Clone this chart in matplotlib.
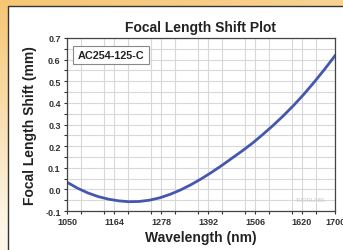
import numpy as np
import matplotlib
matplotlib.use("Agg")
import matplotlib.pyplot as plt
from matplotlib.patches import Rectangle
from matplotlib.ticker import MultipleLocator

plt.rcParams['font.family'] = ['Liberation Sans', 'DejaVu Sans']

# data
wavelength = [1050, 1075, 1100, 1125, 1150, 1175, 1200, 1225, 1250, 1275, 1300, 1325, 1350,
              1375, 1400, 1425, 1450, 1475, 1500, 1525, 1550, 1575, 1600, 1625, 1650, 1675, 1700]
shift_mm = [0.033, 0.006, -0.016, -0.033, -0.045, -0.053, -0.057, -0.056, -0.050, -0.039, -0.023,
            -0.003, 0.021, 0.048, 0.078, 0.110, 0.144, 0.178, 0.214, 0.254, 0.296, 0.341, 0.389,
            0.441, 0.497, 0.556, 0.618]
xticks = [1050, 1164, 1278, 1392, 1506, 1620, 1700]
yticks = [-0.1, 0.0, 0.1, 0.2, 0.3, 0.4, 0.5, 0.6, 0.7]

W, H = 343, 251
fig = plt.figure(figsize=(W / 100, H / 100), dpi=100)

# orange gradient background behind a white panel
bg = fig.add_axes([0, 0, 1, 1])
gx, gy = np.meshgrid(np.linspace(0, 1, 200), np.linspace(0, 1, 200))
t = np.clip(1 - gy * 1.1 - gx * 0.25, 0, 1)
c0 = np.array([253, 246, 232]) / 255
c1 = np.array([246, 198, 115]) / 255
img = c0[None, None, :] + (c1 - c0)[None, None, :] * t[..., None]
bg.imshow(img, extent=[0, 1, 0, 1], origin="upper", aspect="auto")
bg.add_patch(Rectangle((8 / W, -0.1), 1.2, 1 - 7 / H + 0.1, transform=bg.transAxes,
                       facecolor="white", edgecolor="#333333", lw=1.0))
bg.set_xlim(0, 1)
bg.set_ylim(0, 1)
bg.axis("off")

ax = fig.add_axes([67 / W, 1 - 212 / H, (335 - 67) / W, (212 - 39) / H])
ax.plot(wavelength, shift_mm, color="#4558ad", lw=2.0)
ax.set_xlim(1050, 1700)
ax.set_ylim(-0.1, 0.7)
ax.set_xticks(xticks)
ax.set_yticks(yticks)
ax.set_yticklabels(["%.1f" % v for v in yticks])
ax.xaxis.set_minor_locator(MultipleLocator(57))
ax.yaxis.set_minor_locator(MultipleLocator(0.05))
ax.grid(True, which="both", color="#d8d8d8", lw=0.8)
ax.set_axisbelow(True)
ax.tick_params(which="both", direction="out", length=2.5, width=0.8, colors="#333333",
               labelsize=6.5, pad=2, top=False, right=False)
for lab in ax.get_xticklabels() + ax.get_yticklabels():
    lab.set_fontweight("bold")
    lab.set_color("#333333")
for s in ax.spines.values():
    s.set_color("#444444")
    s.set_linewidth(0.9)

ax.set_title("Focal Length Shift Plot", fontsize=10, fontweight="bold", pad=5, color="#222222")
ax.set_xlabel("Wavelength (nm)", fontsize=10, fontweight="bold", labelpad=3, color="#222222")
ax.set_ylabel("Focal Length Shift (mm)", fontsize=10, fontweight="bold", labelpad=6, color="#222222")

ax.text(0.04, 0.93, "AC254-125-C", transform=ax.transAxes, fontsize=7.8, fontweight="bold",
        va="top", ha="left", color="#222222",
        bbox=dict(boxstyle="square,pad=0.4", facecolor="white", edgecolor="#888888", lw=0.8))
ax.text(0.965, 0.05, "THORLABS", transform=ax.transAxes, fontsize=4, color="#c8c8c8",
        ha="right", va="bottom")

fig.savefig("out.png", dpi=100)
